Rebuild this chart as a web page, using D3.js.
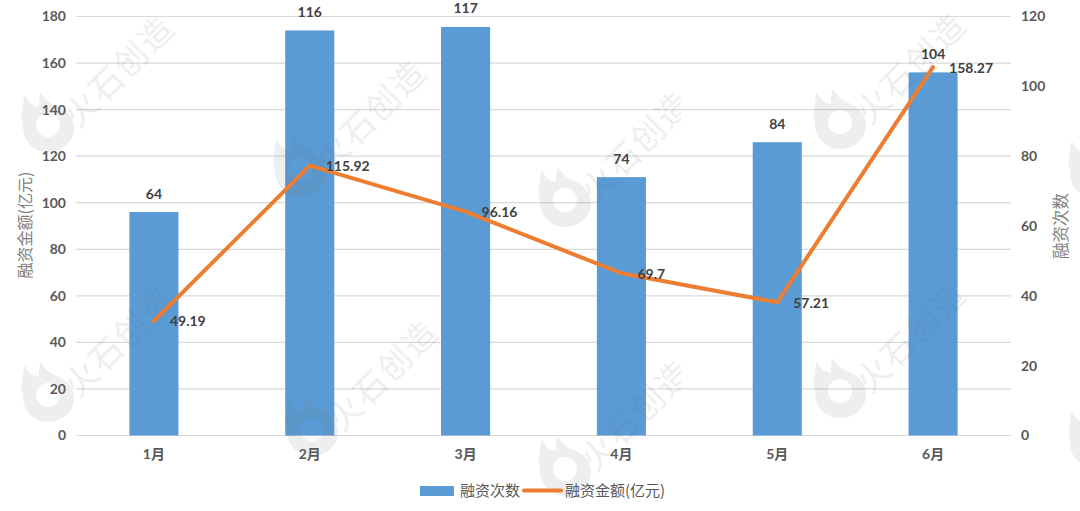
<!DOCTYPE html>
<html>
<head>
<meta charset="utf-8">
<script src="https://cdn.jsdelivr.net/npm/d3@7"></script>
<style>
	html, body { margin: 0; padding: 0; background: #fff; }
	svg { display: block; }
	.num { font-family: Lato, "Noto Sans CJK SC", sans-serif; font-weight: 700; }
	.cjk { font-family: "Noto Sans CJK SC", sans-serif; }
</style>
</head>
<body>
<div id="chart"></div>
<script>
var months = ['1月', '2月', '3月', '4月', '5月', '6月'];
var counts = [64, 116, 117, 74, 84, 104];          // 融资次数, right axis
var amounts = [49.19, 115.92, 96.16, 69.7, 57.21, 158.27];  // 融资金额, left axis
var leftTicks = [0, 20, 40, 60, 80, 100, 120, 140, 160, 180];
var rightTicks = [0, 20, 40, 60, 80, 100, 120];

var barColor = '#5b9bd5';
var lineColor = '#ed7d31';
var gridColor = '#d9d9d9';

var width = 1080, height = 511;
var svg = d3.select('#chart').append('svg').attr('width', width).attr('height', height);

var x = d3.scaleBand().domain(months).range([76, 1011]).paddingInner(0.685).paddingOuter(0.3425);
var yLeft = d3.scaleLinear().domain([0, 180]).range([435.5, 16.5]);
var yRight = d3.scaleLinear().domain([0, 120]).range([435.5, 16.5]);
var cx = function (m) { return x(m) + x.bandwidth() / 2; };

// grid
svg.append('g').selectAll('line').data(leftTicks).enter().append('line')
	.attr('x1', 76).attr('x2', 1011)
	.attr('y1', function (d) { return yLeft(d); })
	.attr('y2', function (d) { return yLeft(d); })
	.attr('stroke', gridColor).attr('stroke-width', 1.2);

// axes, only the labels are visible
var axisL = svg.append('g').attr('transform', 'translate(76,0)')
	.call(d3.axisLeft(yLeft).tickValues(leftTicks).tickSize(0).tickPadding(10));
var axisR = svg.append('g').attr('transform', 'translate(1011,0)')
	.call(d3.axisRight(yRight).tickValues(rightTicks).tickSize(0).tickPadding(10));
var axisB = svg.append('g').attr('transform', 'translate(0,435.5)')
	.call(d3.axisBottom(x).tickSize(0).tickPadding(14));
[axisL, axisR, axisB].forEach(function (a) {
	a.select('.domain').remove();
	a.selectAll('text').attr('class', 'num').attr('fill', '#595959').style('font-size', '14px');
});

// bars
svg.append('g').selectAll('rect').data(months).enter().append('rect')
	.attr('x', function (d) { return x(d); })
	.attr('width', x.bandwidth())
	.attr('y', function (d, i) { return yRight(counts[i]); })
	.attr('height', function (d, i) { return yRight(0) - yRight(counts[i]); })
	.attr('fill', barColor);

// watermark tiles, sit on top of the bars
var flame = 'M-23,-29 C-20,-21 -15,-18 -9,-17 C-9,-23 -9,-28 -7,-32 C-3,-24 3,-20 9,-18 ' +
	'C19,-14 26,-6 26,4 C26,18 14,28 0,28 C-14,28 -25,17 -25,3 C-25,-2 -28,-8 -26,-11 C-25,-17 -25,-24 -23,-29 Z ' +
	'M0,-11 A12,12 0 1,0 0,13 A12,12 0 1,0 0,-11 Z';
// [x, y, has text, clipped at the image seam]
var tiles = [[48, 124, true, false], [300, 168, true, false], [565, 199, true, true], [840, 121, true, false], [1095, 170, false, false],
	[48, 394, true, false], [312, 428, true, false], [565, 468, true, true], [840, 390, true, false], [1095, 440, false, false]];

svg.append('clipPath').attr('id', 'tileClip').append('rect').attr('x', 0).attr('y', 0).attr('width', 681).attr('height', height);

var wm = svg.append('g');
tiles.forEach(function (t) {
	var g = wm.append('g');
	if (t[3]) g.attr('clip-path', 'url(#tileClip)');
	g.append('path').attr('d', flame).attr('fill', '#666').attr('fill-rule', 'evenodd').attr('opacity', 0.11)
		.attr('transform', 'translate(' + t[0] + ',' + t[1] + ')');
	if (t[2]) {
		g.append('text').attr('class', 'cjk').attr('opacity', 0.1)
			.attr('transform', 'translate(' + (t[0] + 30) + ',' + (t[1] + 5) + ') rotate(-45)')
			.attr('fill', '#666').style('font-size', '33px').style('letter-spacing', '2px')
			.text('火石创造');
	}
});

// line
var line = d3.line()
	.x(function (d, i) { return cx(months[i]); })
	.y(function (d) { return yLeft(d); });
svg.append('path').datum(amounts).attr('d', line)
	.attr('fill', 'none').attr('stroke', lineColor).attr('stroke-width', 4)
	.attr('stroke-linejoin', 'round').attr('stroke-linecap', 'round');

// value labels
svg.append('g').selectAll('text').data(counts).enter().append('text')
	.attr('class', 'num').attr('fill', '#404040').style('font-size', '14px')
	.attr('text-anchor', 'middle').attr('dominant-baseline', 'central')
	.attr('x', function (d, i) { return cx(months[i]); })
	.attr('y', function (d) { return yRight(d) - 19; })
	.text(function (d) { return d; });

svg.append('g').selectAll('text').data(amounts).enter().append('text')
	.attr('class', 'num').attr('fill', '#404040').style('font-size', '14px')
	.attr('dominant-baseline', 'central')
	.attr('x', function (d, i) { return cx(months[i]) + 16; })
	.attr('y', function (d) { return yLeft(d); })
	.text(function (d) { return d; });

// axis titles
svg.append('text').attr('class', 'cjk').attr('fill', '#7f7f7f').style('font-size', '16px')
	.attr('text-anchor', 'middle')
	.attr('transform', 'translate(31,225) rotate(-90)')
	.text('融资金额(亿元)');
svg.append('text').attr('class', 'cjk').attr('fill', '#7f7f7f').style('font-size', '16.5px')
	.attr('text-anchor', 'middle')
	.attr('transform', 'translate(1067,226) rotate(-90)')
	.text('融资次数');

// legend
svg.append('rect').attr('x', 420).attr('y', 486).attr('width', 34).attr('height', 10).attr('fill', barColor);
svg.append('text').attr('class', 'cjk').attr('x', 460).attr('y', 496).attr('fill', '#595959')
	.style('font-size', '15px').text('融资次数');
svg.append('line').attr('x1', 524).attr('x2', 561).attr('y1', 490.5).attr('y2', 490.5)
	.attr('stroke', lineColor).attr('stroke-width', 4).attr('stroke-linecap', 'round');
svg.append('text').attr('class', 'cjk').attr('x', 565).attr('y', 496).attr('fill', '#595959')
	.style('font-size', '15px').text('融资金额(亿元)');
</script>
</body>
</html>
